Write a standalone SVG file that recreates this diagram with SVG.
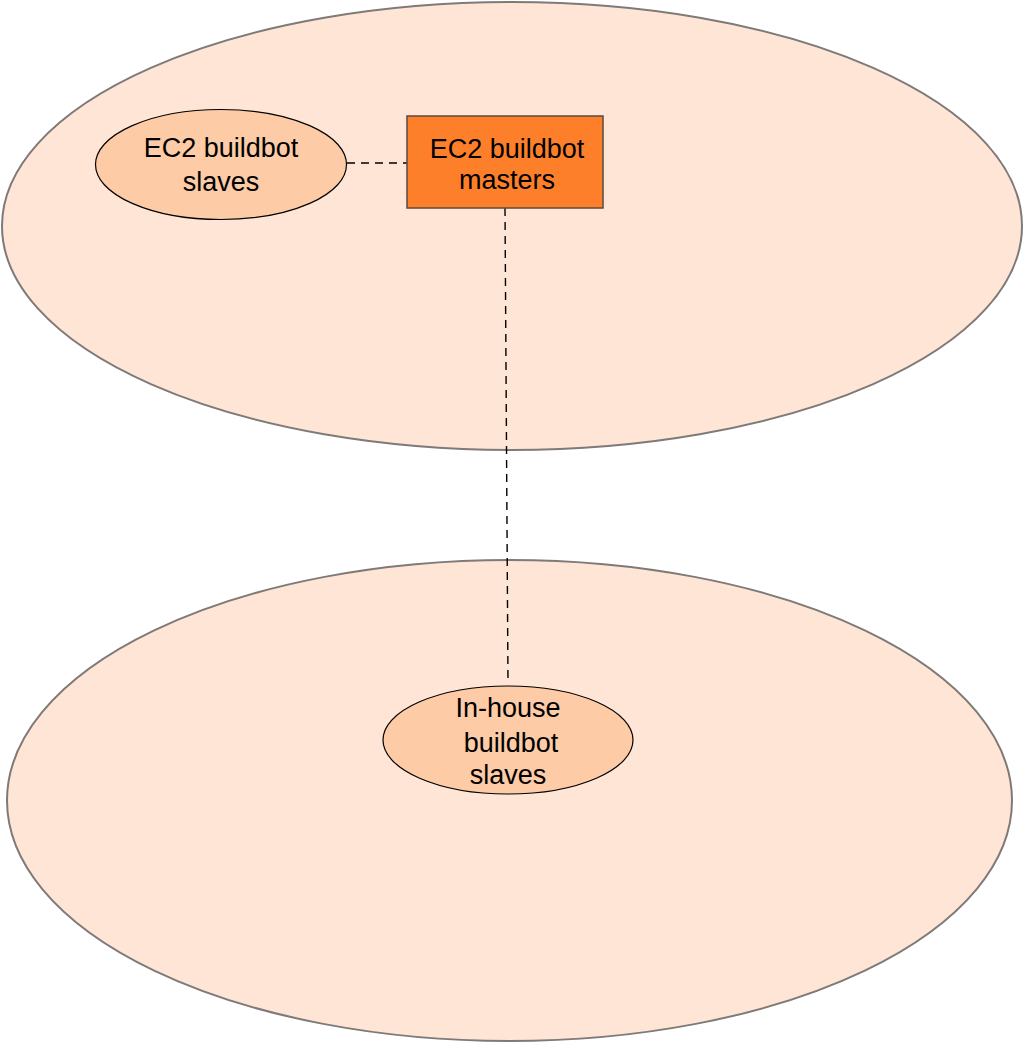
<svg xmlns="http://www.w3.org/2000/svg" width="1024" height="1043" viewBox="0 0 1024 1043">
<style>
.zone{fill:#fee5d5;stroke:#7f7a78;stroke-width:2}
.node{fill:#fdcba6;stroke:#000;stroke-width:1.2}
.box{fill:#fe7f2a;stroke:#5a4a40;stroke-width:1.5}
.t{font-family:"Liberation Sans",Arial,sans-serif;font-size:27px;fill:#000;text-anchor:middle}
.c{stroke:#000;stroke-width:1.4;stroke-dasharray:8,6;fill:none}
</style>
<rect width="1024" height="1043" fill="#fff"/>
<g id="zone-ec2"><ellipse class="zone" cx="512" cy="226" rx="510" ry="224"/></g>
<g id="zone-inhouse"><ellipse class="zone" cx="509.5" cy="800.5" rx="502.5" ry="240.5"/></g>
<g id="connectors">
<line class="c" x1="347" y1="163" x2="407" y2="163"/>
<line class="c" x1="505" y1="208" x2="508" y2="684"/>
</g>
<g id="ec2-slaves">
<ellipse class="node" cx="221" cy="164.5" rx="125.5" ry="55"/>
<text class="t" x="221" y="157">EC2 buildbot</text>
<text class="t" x="221" y="191">slaves</text>
</g>
<g id="ec2-masters">
<rect class="box" x="407" y="116" width="196" height="92"/>
<text class="t" x="507" y="158">EC2 buildbot</text>
<text class="t" x="507" y="189">masters</text>
</g>
<g id="inhouse-slaves">
<ellipse class="node" cx="508" cy="740" rx="125" ry="54"/>
<text class="t" x="508" y="717">In-house</text>
<text class="t" x="511" y="752">buildbot</text>
<text class="t" x="508" y="784">slaves</text>
</g>
</svg>
